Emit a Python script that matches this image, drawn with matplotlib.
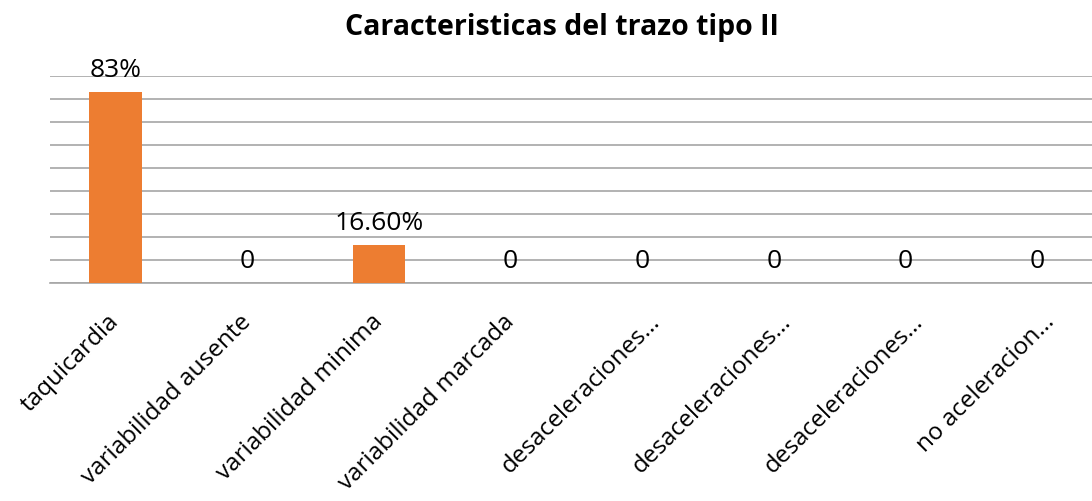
import numpy as np
import matplotlib.pyplot as plt
import matplotlib.transforms as mtransforms

# datos
categorias = ['taquicardia', 'variabilidad ausente', 'variabilidad minima',
              'variabilidad marcada', 'desaceleraciones…', 'desaceleraciones…',
              'desaceleraciones…', 'no aceleracion…']
valores = [0.83, 0, 0.166, 0, 0, 0, 0, 0]
etiquetas = ['83%', '0', '16.60%', '0', '0', '0', '0', '0']

plt.rcParams['font.family'] = ['Open Sans', 'DejaVu Sans']

fig = plt.figure(figsize=(10.92, 5.02), dpi=100)
# el area del grafico se sale por la derecha, como en la imagen original
ax = fig.add_axes([50 / 1092, 1 - 284 / 502, 1053 / 1092, 207 / 502])

x = np.arange(len(categorias))
barras = ax.bar(x, valores, width=0.4, color='#ED7D31', zorder=3)

for xi, v, txt in zip(x, valores, etiquetas):
    ax.annotate(txt, (xi, v), xytext=(0, 7), textcoords='offset points',
                ha='center', va='bottom', fontsize=19, color='#000000', zorder=4)

ax.set_xlim(-0.5, len(categorias) - 0.5)
ax.set_ylim(0, 0.9)
ax.set_yticks(np.arange(0, 0.91, 0.1))
ax.yaxis.grid(True, color='#A6A6A6', linewidth=1.2, zorder=0)
ax.tick_params(axis='y', left=False, labelleft=False)
ax.tick_params(axis='x', length=0, pad=25)
for s in ['top', 'right', 'left']:
    ax.spines[s].set_visible(False)
ax.spines['bottom'].set_color('#A6A6A6')
ax.spines['bottom'].set_linewidth(1.2)

ax.set_xticks(x)
ax.set_xticklabels(categorias, rotation=45, ha='right', va='center',
                   rotation_mode='anchor', fontsize=17.5)

# las etiquetas recortadas quedan un poco mas a la derecha
for lab in ax.get_xticklabels():
    if lab.get_text().endswith('…'):
        lab.set_transform(lab.get_transform() +
                          mtransforms.ScaledTranslation(14 / 100, 0, fig.dpi_scale_trans))

fig.text(562 / 1092, 1 - 28 / 502, 'Caracteristicas del trazo tipo II',
         ha='center', va='center', fontsize=20.5, fontweight='bold')

fig.savefig('out.png', dpi=100)
